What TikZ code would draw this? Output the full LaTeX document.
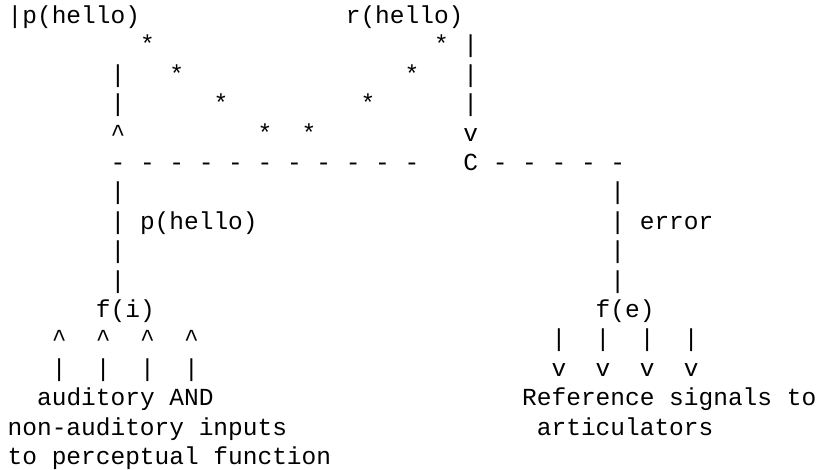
\documentclass[tikz,border=0pt]{standalone}
\usepackage{fontspec}
\newfontfamily\asciimono{Liberation Mono}
% character grid: 14.7pt per column, 29.4pt per row
\tikzset{
  txt/.style={anchor=base west, inner sep=0pt, outer sep=0pt,
    font=\asciimono\fontsize{24.5}{29.4}\selectfont, text=black},
}
\newcommand\glyphat[4]{\node[txt] (#1) at ({7.7+14.7*(#2)},{-(23.5+29.4*(#3))}) {#4};}
\begin{document}
\begin{tikzpicture}[x=1pt,y=1pt]
\useasboundingbox (0,0) rectangle (817,-469);
% top: perception and reference
\glyphat{phello}{0}{0}{|p(hello)}
\glyphat{rhello}{23}{0}{r(hello)}
\glyphat{sa1}{9}{1}{*}
\glyphat{sb1}{29}{1}{*}
\glyphat{rb1}{31}{1}{|}
\glyphat{lb2}{7}{2}{|}
\glyphat{sa2}{11}{2}{*}
\glyphat{sb2}{27}{2}{*}
\glyphat{rb2}{31}{2}{|}
\glyphat{lb3}{7}{3}{|}
\glyphat{sa3}{14}{3}{*}
\glyphat{sb3}{24}{3}{*}
\glyphat{rb3}{31}{3}{|}
\glyphat{lup}{7}{4}{\textasciicircum}
\glyphat{sa4}{17}{4}{*}
\glyphat{sb4}{20}{4}{*}
\glyphat{rdown}{31}{4}{v}
% comparator row
\foreach \c in {7,9,...,27} {\glyphat{dl\c}{\c}{5}{-}}
\glyphat{comp}{31}{5}{C}
\foreach \c in {33,35,...,41} {\glyphat{dr\c}{\c}{5}{-}}
% input and output branches
\foreach \r in {6,8,9} {
  \glyphat{il\r}{7}{\r}{|}
  \glyphat{ir\r}{41}{\r}{|}
}
\glyphat{il7}{7}{7}{|}
\glyphat{plabel}{9}{7}{p(hello)}
\glyphat{ir7}{41}{7}{|}
\glyphat{elabel}{43}{7}{error}
\glyphat{fi}{6}{10}{f(i)}
\glyphat{fe}{40}{10}{f(e)}
\foreach \c in {3,6,9,12} {
  \glyphat{iu\c}{\c}{11}{\textasciicircum}
  \glyphat{ib\c}{\c}{12}{|}
}
\foreach \c in {37,40,43,46} {
  \glyphat{ob\c}{\c}{11}{|}
  \glyphat{od\c}{\c}{12}{v}
}
% captions
\glyphat{in1}{2}{13}{auditory AND}
\glyphat{in2}{0}{14}{non-auditory inputs}
\glyphat{in3}{0}{15}{to perceptual function}
\glyphat{out1}{35}{13}{Reference signals to}
\glyphat{out2}{36}{14}{articulators}
\end{tikzpicture}
\end{document}
